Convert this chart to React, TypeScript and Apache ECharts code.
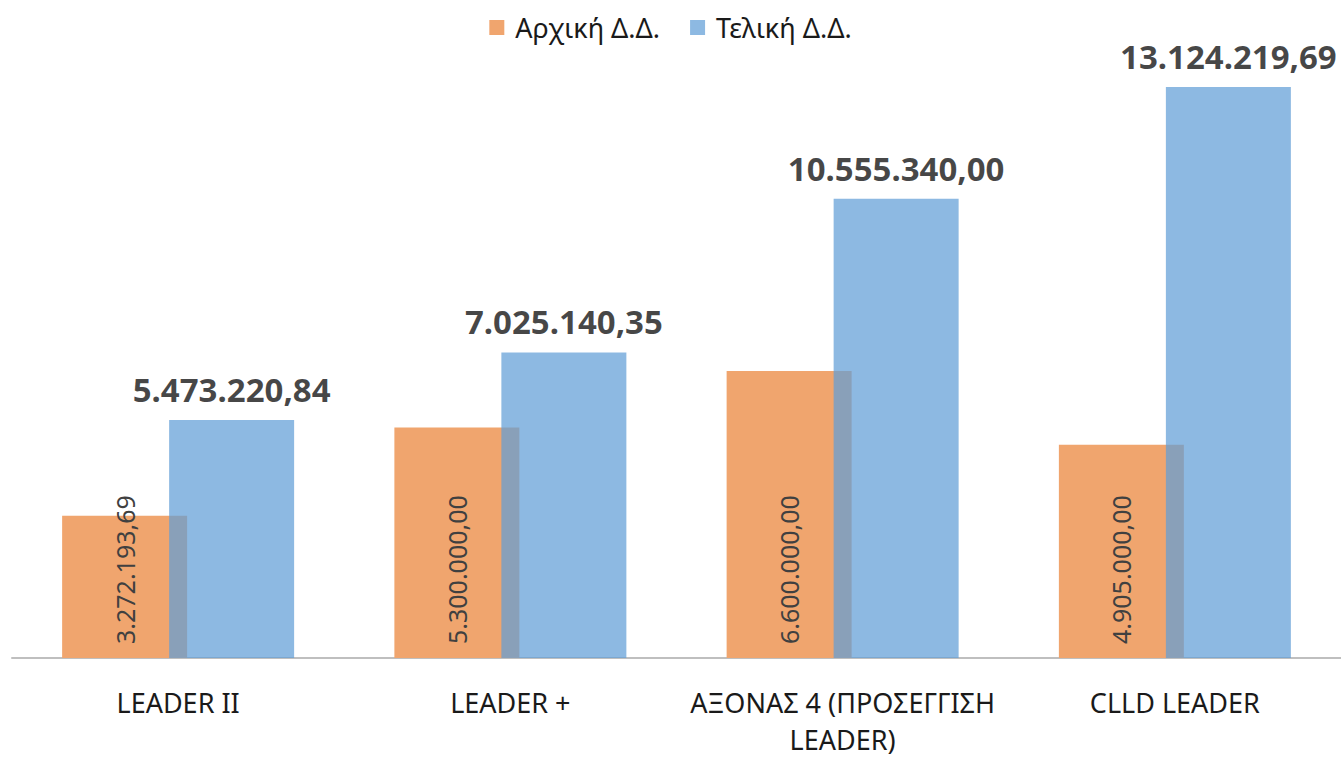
import React, { useEffect, useRef } from "react";
import * as echarts from "echarts";

const categories = ["LEADER II", "LEADER +", "ΑΞΟΝΑΣ 4 (ΠΡΟΣΕΓΓΙΣΗ\nLEADER)", "CLLD LEADER"];
const initialValues = [3272193.69, 5300000, 6600000, 4905000];
const finalValues = [5473220.84, 7025140.35, 10555340, 13124219.69];
const seriesNames = ["Αρχική Δ.Δ.", "Τελική Δ.Δ."];

const FONT = "'Noto Sans', 'DejaVu Sans', sans-serif";

function fmt(v: number): string {
  const fixed = v.toFixed(2);
  const [int, dec] = fixed.split(".");
  const withDots = int.replace(/\B(?=(\d{3})+(?!\d))/g, ".");
  return withDots + "," + dec;
}

export default function App() {
  const ref = useRef<HTMLDivElement>(null);
  useEffect(() => {
    if (!ref.current) return;
    const chart = echarts.init(ref.current, null, { renderer: "svg" });
    chart.setOption({
      animation: false,
      backgroundColor: "#ffffff",
      textStyle: { fontFamily: FONT },
      legend: {
        top: 9,
        left: "center",
        itemWidth: 15,
        itemHeight: 15,
        itemGap: 30,
        icon: "rect",
        textStyle: { fontSize: 27, color: "#1a1a1a", fontFamily: FONT, padding: [0, 0, 0, 6] },
        data: seriesNames,
      },
      grid: { left: 12, right: 0, top: 49, bottom: 94, containLabel: false },
      xAxis: {
        type: "category",
        data: categories,
        axisLine: { show: true, lineStyle: { color: "#bfbfbf", width: 2 } },
        axisTick: { show: false },
        axisLabel: {
          interval: 0,
          margin: 26,
          fontSize: 27,
          lineHeight: 37,
          color: "#1a1a1a",
          fontFamily: FONT,
        },
      },
      yAxis: {
        type: "value",
        min: 0,
        max: 14000000,
        show: false,
        splitLine: { show: false },
      },
      series: [
        {
          name: seriesNames[0],
          type: "bar",
          data: initialValues,
          barWidth: 125,
          barGap: "-14.4%",
          itemStyle: { color: "#f0a56e" },
          label: {
            show: true,
            position: "insideBottom",
            rotate: 90,
            align: "left",
            verticalAlign: "middle",
            distance: 14,
            fontSize: 25,
            color: "#404040",
            fontFamily: FONT,
            formatter: (p: any) => fmt(p.value),
          },
        },
        {
          name: seriesNames[1],
          type: "bar",
          data: finalValues,
          barWidth: 125,
          itemStyle: { color: "rgb(97,158,215)", opacity: 0.72 },
          label: {
            show: true,
            position: "top",
            distance: 14,
            fontSize: 33,
            fontWeight: "bold",
            color: "#000000",
            fontFamily: FONT,
            formatter: (p: any) => fmt(p.value),
          },
        },
      ],
    });
    return () => chart.dispose();
  }, []);
  return (
    <div
      ref={ref}
      style={{ position: "fixed", left: 0, top: 0, width: 1341, height: 758, background: "#fff" }}
    />
  );
}
